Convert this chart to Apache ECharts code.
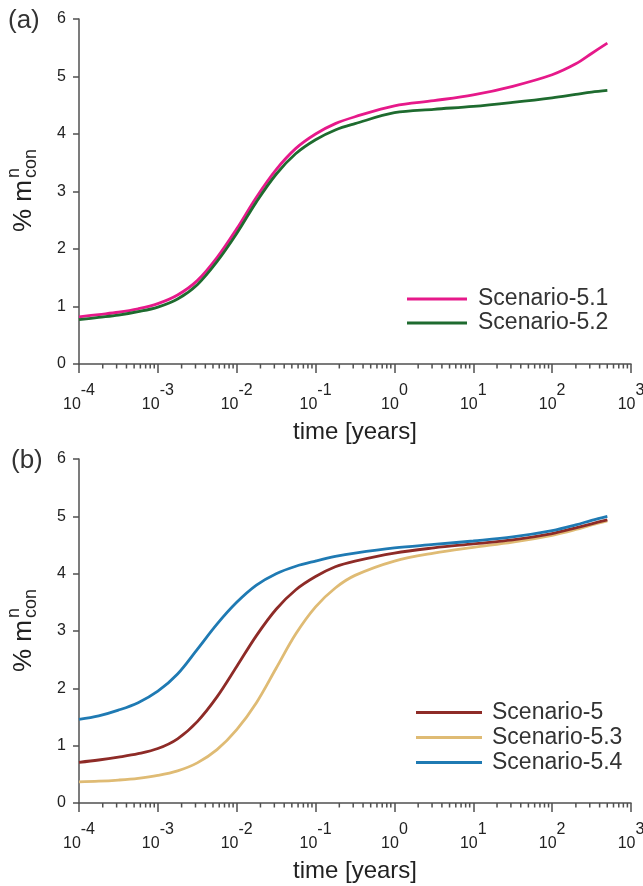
<!DOCTYPE html>
<html>
<head>
<meta charset="utf-8">
<script src="https://cdn.jsdelivr.net/npm/echarts@6/dist/echarts.min.js"></script>
<style>
html,body{margin:0;padding:0;background:#fff;}
#chart{width:643px;height:886px;}
</style>
</head>
<body>
<div id="chart"></div>
<script>
// log10 of time [years]
const logTime = [-4,-3.75,-3.5,-3.25,-3,-2.75,-2.5,-2.25,-2,-1.75,-1.5,-1.25,-1,-0.75,-0.5,0,0.5,1,1.5,2,2.3,2.5,2.7];
// panel (a)
const scen51 = [0.82,0.86,0.90,0.96,1.05,1.20,1.45,1.85,2.35,2.90,3.38,3.75,4.00,4.18,4.30,4.49,4.58,4.68,4.83,5.03,5.22,5.40,5.58];
const scen52 = [0.77,0.81,0.85,0.91,0.99,1.13,1.38,1.78,2.27,2.82,3.30,3.66,3.90,4.07,4.18,4.37,4.43,4.48,4.55,4.63,4.69,4.73,4.76];
// panel (b)
const scen5  = [0.71,0.75,0.80,0.86,0.95,1.12,1.42,1.85,2.38,2.92,3.38,3.72,3.95,4.12,4.22,4.36,4.45,4.52,4.59,4.70,4.80,4.87,4.94];
const scen53 = [0.37,0.38,0.40,0.43,0.48,0.56,0.70,0.93,1.28,1.75,2.35,2.95,3.42,3.75,3.97,4.22,4.36,4.46,4.55,4.67,4.77,4.85,4.92];
const scen54 = [1.46,1.52,1.62,1.75,1.95,2.25,2.68,3.12,3.50,3.80,4.00,4.13,4.22,4.30,4.36,4.45,4.51,4.57,4.64,4.75,4.85,4.93,5.00];
// axis ticks
const xDecades = [-4,-3,-2,-1,0,1,2];
const minorMult = [2,3,4,5,6,7,8,9];
const yTicks = [0,1,2,3,4,5,6];

const FONT = "'Liberation Sans', Arial, Helvetica, sans-serif";
const AX = '#505050';
const TXT = '#222';

function pairs(vals){ return logTime.map((e,i)=>[Math.pow(10,e), vals[i]]); }
const minorTicks = [];
xDecades.forEach(d => minorMult.forEach(m => minorTicks.push([m*Math.pow(10,d), 0])));

function xAxisDef(gi){
  return {
    type:'log', logBase:10, gridIndex:gi, min:1e-4, max:1e3, splitNumber:7,
    name:'time [years]', nameLocation:'middle', nameGap:56,
    nameTextStyle:{fontFamily:FONT, fontSize:24, color:TXT},
    axisLine:{show:true, onZero:false, lineStyle:{color:AX, width:1.5}},
    axisTick:{show:true, inside:false, length:9, lineStyle:{color:AX, width:1.5}},
    minorTick:{show:false},
    splitLine:{show:false},
    axisLabel:{
      show:true, margin:33, showMinLabel:true, showMaxLabel:true, hideOverlap:false,
      formatter:function(v){ const e=Math.round(Math.log10(v)); return '{b|10}{e|'+e+'}'; },
      rich:{
        b:{fontFamily:FONT, fontSize:16, color:TXT, lineHeight:16, verticalAlign:'bottom'},
        e:{fontFamily:FONT, fontSize:16, color:TXT, lineHeight:16, verticalAlign:'bottom', padding:[0,0,14,0]}
      }
    }
  };
}
function yAxisDef(gi){
  return {
    type:'value', gridIndex:gi, min:0, max:6, interval:1,
    axisLine:{show:true, lineStyle:{color:AX, width:1.5}},
    axisTick:{show:true, inside:false, length:6, lineStyle:{color:AX, width:1.5}},
    splitLine:{show:false},
    axisLabel:{fontFamily:FONT, fontSize:16, color:TXT, margin:13}
  };
}
function lineSeries(name, vals, color, gi){
  return {
    type:'line', name:name, xAxisIndex:gi, yAxisIndex:gi, data:pairs(vals),
    showSymbol:false, symbol:'none', smooth:0.35,
    lineStyle:{color:color, width:2.8}, itemStyle:{color:color}, z:3
  };
}
function minorSeries(gi){
  return {
    type:'custom', xAxisIndex:gi, yAxisIndex:gi, data:minorTicks, clip:false, silent:true,
    renderItem:function(params, api){
      const p = api.coord([api.value(0), api.value(1)]);
      return {type:'line', shape:{x1:p[0], y1:p[1], x2:p[0], y2:p[1]+4.5},
              style:{stroke:AX, lineWidth:1.5}};
    }
  };
}
function yName(cx, cy){
  return {
    type:'group', x:cx, y:cy, rotation:Math.PI/2,
    children:[
      {type:'text', x:-41, y:0, style:{text:'% m', font:'26px '+FONT, fill:TXT, textAlign:'left', textVerticalAlign:'middle'}},
      {type:'text', x:13, y:-10, style:{text:'n', font:'18px '+FONT, fill:TXT, textAlign:'left', textVerticalAlign:'middle'}},
      {type:'text', x:13, y:7, style:{text:'con', font:'18px '+FONT, fill:TXT, textAlign:'left', textVerticalAlign:'middle'}}
    ]
  };
}

const chart = echarts.init(document.getElementById('chart'), null, {renderer:'canvas'});
chart.setOption({
  backgroundColor:'#fff',
  animation:false,
  textStyle:{fontFamily:FONT},
  grid:[
    {left:79, top:19, width:552, height:345, containLabel:false, outerBoundsMode:'none'},
    {left:79, top:459, width:552, height:344, containLabel:false, outerBoundsMode:'none'}
  ],
  xAxis:[xAxisDef(0), xAxisDef(1)],
  yAxis:[yAxisDef(0), yAxisDef(1)],
  legend:[
    {data:['Scenario-5.1','Scenario-5.2'], orient:'vertical', left:407, top:287, padding:0,
     itemWidth:60, itemHeight:3, itemGap:0, icon:'rect', selectedMode:false,
     textStyle:{fontFamily:FONT, fontSize:23, lineHeight:24, color:'#333', padding:[0,0,0,6]}},
    {data:['Scenario-5','Scenario-5.3','Scenario-5.4'], orient:'vertical', left:416, top:700, padding:0,
     itemWidth:66, itemHeight:3, itemGap:0, icon:'rect', selectedMode:false,
     textStyle:{fontFamily:FONT, fontSize:23, lineHeight:25, color:'#333', padding:[0,0,0,5]}}
  ],
  graphic:[
    {type:'text', left:8, top:8, style:{text:'(a)', font:'26px '+FONT, fill:'#333'}},
    {type:'text', left:11, top:448, style:{text:'(b)', font:'26px '+FONT, fill:'#333'}},
    yName(24, 191),
    yName(24, 631)
  ],
  series:[
    minorSeries(0), minorSeries(1),
    lineSeries('Scenario-5.1', scen51, '#e6198a', 0),
    lineSeries('Scenario-5.2', scen52, '#1e6b2f', 0),
    lineSeries('Scenario-5.3', scen53, '#dfbb74', 1),
    lineSeries('Scenario-5', scen5, '#8e2b27', 1),
    lineSeries('Scenario-5.4', scen54, '#1f7ab3', 1)
  ]
});
</script>
</body>
</html>
